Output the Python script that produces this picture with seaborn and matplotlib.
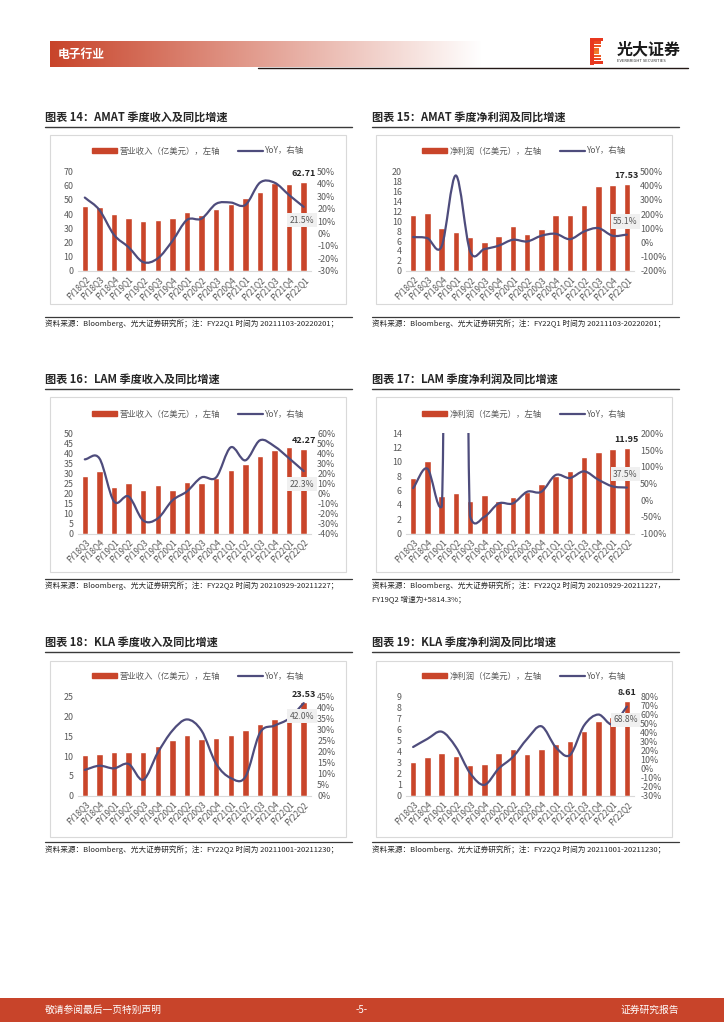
import numpy as np
import pandas as pd
import seaborn as sns
import matplotlib.pyplot as plt
from matplotlib.path import Path
from matplotlib.patches import PathPatch, Rectangle, Patch
from matplotlib.lines import Line2D

# ---- data ----
amat_q = ['FY18Q2', 'FY18Q3', 'FY18Q4', 'FY19Q1', 'FY19Q2', 'FY19Q3', 'FY19Q4', 'FY20Q1',
          'FY20Q2', 'FY20Q3', 'FY20Q4', 'FY21Q1', 'FY21Q2', 'FY21Q3', 'FY21Q4', 'FY22Q1']
amat_rev = [45.7, 44.7, 40.1, 37.5, 35.4, 35.6, 37.5, 41.6, 39.6, 43.9, 46.9, 51.6, 55.8, 61.9, 61.2, 62.71]
amat_rev_yoy = [29, 19, -1, -11, -23, -20, -6, 11, 12, 24, 25, 23, 41, 41, 31, 21.5]
amat_ni = [11.3, 11.7, 8.7, 7.8, 6.9, 5.7, 7.0, 9.0, 7.5, 8.4, 11.2, 11.2, 13.3, 17.1, 17.3, 17.53]
amat_ni_yoy = [38, 30, -28, 472, -63, -47, -23, 19, 7, 47, 61, 23, 77, 101, 47, 55.1]

lam_q = ['FY18Q3', 'FY18Q4', 'FY19Q1', 'FY19Q2', 'FY19Q3', 'FY19Q4', 'FY20Q1', 'FY20Q2',
         'FY20Q3', 'FY20Q4', 'FY21Q1', 'FY21Q2', 'FY21Q3', 'FY21Q4', 'FY22Q1', 'FY22Q2']
lam_rev = [28.9, 31.3, 23.3, 25.2, 21.7, 24.0, 21.7, 25.8, 25.0, 27.9, 31.8, 34.6, 38.5, 41.5, 43.0, 42.27]
lam_rev_yoy = [34, 35, -8, -3, -27, -25, -7, 2, 16, 16, 46, 33, 53, 47, 35, 22.3]
lam_ni = [7.8, 10.1, 5.3, 5.6, 4.6, 5.4, 4.6, 5.1, 5.8, 6.9, 8.1, 8.7, 10.7, 11.4, 11.8, 11.95]
lam_ni_yoy = [36, 94, -20, 5814.3, -50, -50, -10, -10, 25, 25, 75, 66, 86, 61, 41, 37.5]

kla_q = lam_q
kla_rev = [10.3, 10.6, 10.9, 11.1, 10.9, 12.6, 14.1, 15.2, 14.2, 14.6, 15.4, 16.5, 18.1, 19.3, 20.8, 23.53]
kla_rev_yoy = [11.7, 13.6, 12.4, 14.4, 7.2, 19.5, 29.5, 34.6, 29.5, 14.5, 8.0, 8.5, 28.5, 31.8, 35.0, 42.0]
kla_ni = [3.1, 3.5, 3.9, 3.6, 2.8, 2.9, 3.9, 4.2, 3.8, 4.2, 4.7, 4.95, 5.9, 6.8, 7.1, 8.61]
kla_ni_yoy = [24, 33, 41, 24, -5, -18, 0, 13, 33, 47, 24, 15, 48, 60, 49, 68.8]

RED = '#C9452A'
NAVY = '#4E4C7C'
GRAY = '#595959'
W, H = 724, 1024

sns.set_style('white')
plt.rcParams['font.family'] = ['Noto Sans CJK SC', 'DejaVu Sans']

fig = plt.figure(figsize=(W / 100, H / 100), dpi=100)


def fx(x):
    return x / W


def fy(y):
    return 1 - y / H


def hline(x0, x1, y, color='#404040', lw=1.0):
    fig.add_artist(Line2D([fx(x0), fx(x1)], [fy(y), fy(y)], color=color, lw=lw))


def smooth_path(ys, lo, hi):
    # excel-like smoothed line, tangents taken from values clipped to the axis range
    ys = np.asarray(ys, dtype=float)
    yc = np.clip(ys, lo, hi)
    n = len(ys)
    slope = np.zeros(n)
    slope[0] = yc[1] - yc[0]
    slope[-1] = yc[-1] - yc[-2]
    slope[1:-1] = (yc[2:] - yc[:-2]) / 2
    verts = [(0, ys[0])]
    codes = [Path.MOVETO]
    for i in range(n - 1):
        verts += [(i + 1 / 3, ys[i] + slope[i] / 3),
                  (i + 2 / 3, ys[i + 1] - slope[i + 1] / 3),
                  (i + 1, ys[i + 1])]
        codes += [Path.CURVE4] * 3
    return Path(verts, codes)


def chart(col, row, title, bar_name, cats, vals, yoy, ymax, ystep, rlo, rhi, rstep,
          source, label_up=False):
    bx0, bx1 = (50, 346) if col == 0 else (376, 672)
    tx = 45 if col == 0 else 372
    ax0, ax1 = (77.5, 311) if col == 0 else (406, 634)
    rows = [dict(title=117, rule=127, box=(135, 304), leg=151, ax=(171.5, 270.8), src=316.5),
            dict(title=379, rule=389, box=(397, 572), leg=414, ax=(433.3, 533.5), src=578.5),
            dict(title=642, rule=652, box=(661, 837), leg=676, ax=(696.5, 795.7), src=842)]
    r = rows[row]

    fig.text(fx(tx), fy(r['title']), title, fontsize=8, fontweight='bold', color='#262626', va='center')
    hline(tx, tx + 307, r['rule'], color='#3A3A3A', lw=1.0)
    fig.add_artist(Rectangle((fx(bx0), fy(r['box'][1])), fx(bx1) - fx(bx0),
                             fy(r['box'][0]) - fy(r['box'][1]), transform=fig.transFigure,
                             fill=False, ec='#D9D9D9', lw=0.8))
    hline(tx, tx + 307, r['src'], color='#3A3A3A', lw=0.9)
    fig.text(fx(tx), fy(r['src'] + 3), source, fontsize=5.5, color='#262626', va='top', linespacing=1.9)

    ax = fig.add_axes([fx(ax0), fy(r['ax'][1]), fx(ax1) - fx(ax0), fy(r['ax'][0]) - fy(r['ax'][1])])
    df = pd.DataFrame({'q': cats, 'v': vals})
    sns.barplot(data=df, x='q', y='v', ax=ax, color=RED, width=0.44, saturation=1)
    ax.set_xlabel('')
    ax.set_ylabel('')
    ax.set_ylim(0, ymax)
    ax.set_yticks(np.arange(0, ymax + 0.01, ystep))
    ax.set_yticklabels([f'{v:g}' for v in np.arange(0, ymax + 0.01, ystep)])
    ax.tick_params(axis='y', length=0, labelsize=6.4, labelcolor=GRAY, pad=3)
    ax.tick_params(axis='x', length=0, labelsize=5.9, labelcolor=GRAY, pad=3)
    for lbl in ax.get_xticklabels():
        lbl.set_rotation(45)
        lbl.set_ha('right')
        lbl.set_rotation_mode('anchor')
    for s in ['left', 'right', 'top']:
        ax.spines[s].set_visible(False)
    ax.spines['bottom'].set_color('#D9D9D9')
    ax.spines['bottom'].set_linewidth(0.8)
    ax.annotate(f'{vals[-1]:.2f}', xy=(len(vals) - 1, vals[-1]), xytext=(0, 2.5),
                textcoords='offset points', ha='center', va='bottom',
                fontsize=6.5, fontweight='bold', color='#262626')

    ax2 = ax.twinx()
    ax2.set_ylim(rlo, rhi)
    ticks = np.arange(rlo, rhi + 0.01, rstep)
    ax2.set_yticks(ticks)
    ax2.set_yticklabels([f'{t:.0f}%' for t in ticks])
    ax2.tick_params(axis='y', length=0, labelsize=6.4, labelcolor=GRAY, pad=4.5)
    for s in ax2.spines.values():
        s.set_visible(False)
    ax2.add_patch(PathPatch(smooth_path(yoy, rlo, rhi), fill=False, ec=NAVY, lw=1.6,
                            capstyle='round', joinstyle='round'))
    ax2.annotate(f'{yoy[-1]:.1f}%', xy=(len(yoy) - 1, yoy[-1]),
                 xytext=(-1, 9.5 if label_up else -9.5), textcoords='offset points',
                 ha='center', va='center', fontsize=6.2, color=GRAY,
                 bbox=dict(boxstyle='square,pad=0.3', fc='#F0F0F0', ec='none'))

    handles = [Patch(color=RED), Line2D([], [], color=NAVY, lw=1.6)]
    ax.legend(handles, [bar_name, 'YoY，右轴'], loc='center', ncol=2, frameon=False,
              bbox_to_anchor=(fx((bx0 + bx1) / 2), fy(r['leg'])), bbox_transform=fig.transFigure,
              fontsize=6.0, labelcolor=GRAY, handlelength=3.0, handleheight=0.55,
              handletextpad=0.3, columnspacing=2.2)


src_amat = '资料来源：Bloomberg、光大证券研究所；注：FY22Q1 时间为 20211103-20220201；'
src_lam = '资料来源：Bloomberg、光大证券研究所；注：FY22Q2 时间为 20210929-20211227；'
src_lam2 = ('资料来源：Bloomberg、光大证券研究所；注：FY22Q2 时间为 20210929-20211227，\n'
            'FY19Q2 增速为+5814.3%；')
src_kla = '资料来源：Bloomberg、光大证券研究所；注：FY22Q2 时间为 20211001-20211230；'
rev_name = '营业收入（亿美元），左轴'
ni_name = '净利润（亿美元），左轴'

chart(0, 0, '图表 14：AMAT 季度收入及同比增速', rev_name, amat_q, amat_rev, amat_rev_yoy,
      70, 10, -30, 50, 10, src_amat)
chart(1, 0, '图表 15：AMAT 季度净利润及同比增速', ni_name, amat_q, amat_ni, amat_ni_yoy,
      20, 2, -200, 500, 100, src_amat, label_up=True)
chart(0, 1, '图表 16：LAM 季度收入及同比增速', rev_name, lam_q, lam_rev, lam_rev_yoy,
      50, 5, -40, 60, 10, src_lam)
chart(1, 1, '图表 17：LAM 季度净利润及同比增速', ni_name, lam_q, lam_ni, lam_ni_yoy,
      14, 2, -100, 200, 50, src_lam2, label_up=True)
chart(0, 2, '图表 18：KLA 季度收入及同比增速', rev_name, kla_q, kla_rev, kla_rev_yoy,
      25, 5, 0, 45, 5, src_kla)
chart(1, 2, '图表 19：KLA 季度净利润及同比增速', ni_name, kla_q, kla_ni, kla_ni_yoy,
      9, 1, -30, 80, 10, src_kla)

# ---- page header ----
band = fig.add_axes([fx(50), fy(67), fx(482) - fx(50), fy(41) - fy(67)])
t = np.linspace(0, 1, 400)
base = np.array([200, 68, 42]) / 255
grad = base[None, :] * (1 - t[:, None]) + np.ones(3)[None, :] * t[:, None]
band.imshow(grad[None, :, :], aspect='auto', extent=(0, 1, 0, 1))
band.axis('off')
fig.text(fx(58), fy(54), '电子行业', fontsize=8.5, fontweight='bold', color='white', va='center')
hline(258, 688, 68, color='#231815', lw=1.0)

for i in range(8):
    yy = 38 + i * 3.3
    length = 13 if i in (0, 7) else (9 if i in (3, 4) else 11)
    c = ['#E8381F', '#EA4A22', '#EC5B26', '#EE6C2A', '#EF7C2D', '#EC5B26', '#EA4A22', '#E8381F'][i]
    fig.add_artist(Rectangle((fx(590), fy(yy + 2.6)), fx(length), fx(2.6) * W / H,
                             transform=fig.transFigure, color=c, lw=0))
fig.add_artist(Rectangle((fx(590), fy(64.5)), fx(4), fy(38) - fy(64.5),
                         transform=fig.transFigure, color='#E8381F', lw=0))
fig.text(fx(617), fy(49), '光大证券', fontsize=11.5, fontweight='bold', color='#1A1A1A', va='center')
fig.text(fx(617), fy(61.5), 'EVERBRIGHT SECURITIES', fontsize=3, color='#333333', va='center')

# ---- page footer ----
fig.add_artist(Rectangle((0, fy(1022)), 1, fy(998) - fy(1022), transform=fig.transFigure,
                         color='#C8442A', lw=0))
fig.text(fx(45), fy(1010), '敬请参阅最后一页特别声明', fontsize=7, color='white', va='center')
fig.text(fx(362), fy(1010), '-5-', fontsize=7, color='white', va='center', ha='center')
fig.text(fx(679), fy(1010), '证券研究报告', fontsize=7, color='white', va='center', ha='right')

fig.savefig('out.png', dpi=100)
